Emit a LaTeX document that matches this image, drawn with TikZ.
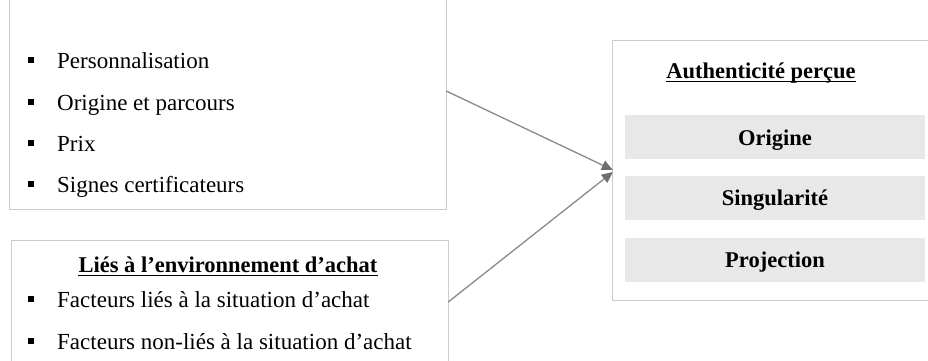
\documentclass[tikz,border=0pt]{standalone}
\usepackage{fontspec}
\setmainfont{Liberation Serif}
\usetikzlibrary{arrows.meta}
\definecolor{boxline}{HTML}{CCCCCC}
\definecolor{barfill}{HTML}{E8E8E8}
\definecolor{arrline}{HTML}{8A8A8A}
\definecolor{arrhead}{HTML}{6E6E6E}
\tikzset{
  frame/.style={draw=none, fill=none, inner sep=0pt, rectangle},
  edge/.style={draw=boxline, line width=1pt},
  itemtext/.style={anchor=base west, inner sep=0pt, font=\fontsize{23}{27}\selectfont},
  titletext/.style={anchor=base, inner sep=0pt, font=\fontsize{22.5}{27}\selectfont\bfseries},
  bullet/.style={fill=black, minimum size=6pt, inner sep=0pt, rectangle},
  bar/.style={fill=barfill, draw=none, minimum width=300pt, minimum height=44pt, inner sep=0pt, text height=18pt, text depth=2pt, font=\fontsize{22.5}{27}\selectfont\bfseries},
  conn/.style={draw=arrline, line width=1.3pt, -{Triangle[length=11pt,width=10pt,color=arrhead,fill=arrhead]}},
  uline/.style={line width=1pt, draw=black}
}
\begin{document}
\begin{tikzpicture}[x=1pt,y=-1pt]
\useasboundingbox (0,0) rectangle (928,360);
\clip (0,0) rectangle (928,360);
\fill[white] (0,0) rectangle (928,360);
% boxes (open on the side that runs out of the picture)
\node[frame, minimum width=436pt, minimum height=239pt] (boxA) at (228,89.5) {};
\node[frame, minimum width=436pt, minimum height=159pt] (boxB) at (230,320.5) {};
\node[frame, minimum width=347pt, minimum height=259pt] (boxC) at (786.5,170.5) {};
\draw[edge] (boxA.north west) -- (boxA.south west) -- (boxA.south east) -- (boxA.north east);
\draw[edge] (boxB.south west) -- (boxB.north west) -- (boxB.north east) -- (boxB.south east);
\draw[edge] (boxC.north east) -- (boxC.north west) -- (boxC.south west) -- (boxC.south east);
% top-left list
\node[bullet] (b1) at (31,60) {};
\node[itemtext] (i1) at (57,68) {Personnalisation};
\node[bullet] (b2) at (31,102) {};
\node[itemtext] (i2) at (57,110) {Origine et parcours};
\node[bullet] (b3) at (31,143) {};
\node[itemtext] (i3) at (57,151) {Prix};
\node[bullet] (b4) at (31,184) {};
\node[itemtext] (i4) at (57,192) {Signes certificateurs};
% bottom-left
\node[titletext] (tB) at (228,272) {Liés à l’environnement d’achat};
\draw[uline] ([yshift=-3pt]tB.base west) -- ([yshift=-3pt]tB.base east);
\node[bullet] (b5) at (31,299) {};
\node[itemtext] (i5) at (57,307) {Facteurs liés à la situation d’achat};
\node[bullet] (b6) at (31,341) {};
\node[itemtext] (i6) at (57,349) {Facteurs non-liés à la situation d’achat};
% right box
\node[titletext] (tC) at (761,78) {Authenticité perçue};
\draw[uline] ([yshift=-3pt]tC.base west) -- ([yshift=-3pt]tC.base east);
\node[bar] (o) at (775,137) {Origine};
\node[bar] (s) at (775,197.5) {Singularité};
\node[bar] (p) at (775,259.5) {Projection};
% arrows
\draw[conn] ([yshift=-1.5pt]boxA.east) -- ([yshift=0.5pt]boxC.west);
\draw[conn] ([yshift=18.5pt]boxB.east) -- ([yshift=-1.5pt]boxC.west);
\end{tikzpicture}
\end{document}
